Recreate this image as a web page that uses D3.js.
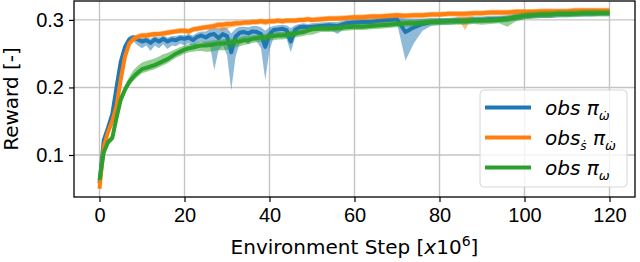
<!DOCTYPE html>
<html>
<head>
<meta charset="utf-8">
<script src="https://cdn.jsdelivr.net/npm/d3@7"></script>
<style>
  body { margin: 0; background: #fff; }
  svg { font-family: "DejaVu Sans", sans-serif; }
</style>
</head>
<body>
<div id="chart"></div>
<script>
// environment steps [x10^6]
var steps = [0,1,2,3,4,5,6,7,8,9,10,11,12,13,14,15,16,17,18,19,20,21,22,23,24,25,26,27,28,29,
  30,31,32,33,34,35,36,37,38,39,40,41,42,43,44,45,46,47,48,49,50,
  52,54,56,58,60,62,64,66,68,70,72,74,76,78,80,82,84,86,88,90,
  92,94,96,98,100,102,104,106,108,110,112,114,116,118,120];

// obs pi_wdot (blue)
var blueMean = [0.058,0.122,0.140,0.160,0.200,0.238,0.260,0.271,0.274,0.271,
  0.268,0.270,0.266,0.271,0.268,0.272,0.268,0.271,0.270,0.273,
  0.272,0.274,0.270,0.275,0.277,0.274,0.278,0.279,0.273,0.279,
  0.276,0.252,0.275,0.281,0.282,0.280,0.283,0.282,0.279,0.260,
  0.279,0.285,0.286,0.287,0.285,0.268,0.285,0.289,0.290,0.289,
  0.290,
  0.291,0.292,0.291,0.295,0.296,0.297,0.297,0.299,0.300,0.301,
  0.282,0.289,0.294,0.297,0.298,0.298,0.299,0.299,0.300,0.300,
  0.301,0.301,0.302,0.304,0.306,0.307,0.308,0.308,0.309,0.309,
  0.310,0.310,0.310,0.311,0.311];
var blueLo = [0.054,0.116,0.134,0.152,0.190,0.228,0.252,0.265,0.268,0.262,
  0.258,0.262,0.254,0.262,0.258,0.264,0.257,0.262,0.261,0.265,
  0.262,0.266,0.258,0.266,0.268,0.262,0.262,0.226,0.255,0.262,
  0.248,0.196,0.245,0.266,0.268,0.264,0.270,0.268,0.258,0.211,
  0.256,0.274,0.276,0.277,0.272,0.252,0.274,0.281,0.283,0.283,
  0.284,
  0.285,0.286,0.279,0.289,0.290,0.291,0.291,0.293,0.294,0.295,
  0.240,0.266,0.284,0.291,0.293,0.293,0.294,0.294,0.295,0.295,
  0.296,0.296,0.297,0.299,0.301,0.302,0.303,0.303,0.304,0.304,
  0.305,0.305,0.305,0.306,0.306];
var blueHi = [0.062,0.128,0.146,0.168,0.210,0.246,0.266,0.276,0.278,0.276,
  0.273,0.275,0.272,0.276,0.274,0.277,0.274,0.276,0.276,0.278,
  0.277,0.279,0.277,0.281,0.283,0.283,0.287,0.288,0.287,0.289,
  0.288,0.280,0.287,0.290,0.290,0.289,0.291,0.291,0.289,0.284,
  0.289,0.291,0.292,0.293,0.292,0.288,0.292,0.294,0.295,0.294,
  0.295,
  0.296,0.297,0.297,0.300,0.301,0.302,0.302,0.304,0.305,0.306,
  0.302,0.302,0.302,0.303,0.303,0.303,0.304,0.304,0.305,0.305,
  0.306,0.306,0.307,0.309,0.311,0.312,0.313,0.313,0.314,0.314,
  0.315,0.315,0.315,0.316,0.316];

// obs_sdot pi_wdot (orange)
var orangeMean = [0.050,0.112,0.134,0.150,0.172,0.212,0.246,0.265,0.272,0.275,
  0.277,0.277,0.278,0.279,0.279,0.280,0.281,0.282,0.283,0.284,
  0.284,0.283,0.286,0.287,0.288,0.289,0.290,0.291,0.293,0.293,
  0.294,0.294,0.295,0.295,0.296,0.296,0.297,0.297,0.298,0.297,
  0.298,0.298,0.299,0.298,0.299,0.299,0.299,0.300,0.300,0.301,
  0.300,
  0.301,0.302,0.302,0.303,0.304,0.304,0.305,0.305,0.306,0.307,
  0.306,0.307,0.307,0.308,0.308,0.309,0.309,0.309,0.310,0.310,
  0.311,0.311,0.311,0.312,0.312,0.312,0.313,0.313,0.313,0.313,
  0.314,0.314,0.314,0.314,0.314];
var orangeLo = [0.046,0.106,0.128,0.144,0.164,0.202,0.238,0.260,0.268,0.271,
  0.273,0.273,0.274,0.275,0.275,0.276,0.277,0.278,0.279,0.280,
  0.280,0.278,0.282,0.283,0.284,0.285,0.285,0.286,0.286,0.284,
  0.287,0.289,0.290,0.291,0.292,0.292,0.293,0.293,0.294,0.292,
  0.294,0.294,0.295,0.294,0.295,0.295,0.295,0.296,0.296,0.297,
  0.296,
  0.297,0.298,0.298,0.299,0.300,0.300,0.301,0.301,0.302,0.303,
  0.302,0.303,0.303,0.304,0.304,0.305,0.305,0.285,0.306,0.306,
  0.307,0.307,0.307,0.308,0.308,0.308,0.309,0.309,0.309,0.309,
  0.310,0.310,0.310,0.310,0.310];
var orangeHi = [0.054,0.120,0.140,0.156,0.182,0.222,0.254,0.270,0.276,0.279,
  0.281,0.281,0.282,0.283,0.283,0.284,0.285,0.286,0.287,0.288,
  0.288,0.287,0.290,0.291,0.292,0.293,0.294,0.295,0.297,0.297,
  0.298,0.298,0.299,0.299,0.300,0.300,0.301,0.301,0.302,0.301,
  0.302,0.302,0.303,0.302,0.303,0.303,0.303,0.304,0.304,0.305,
  0.304,
  0.305,0.306,0.306,0.307,0.308,0.308,0.309,0.309,0.310,0.311,
  0.310,0.311,0.311,0.312,0.312,0.313,0.313,0.313,0.314,0.314,
  0.315,0.315,0.315,0.316,0.316,0.316,0.317,0.317,0.317,0.317,
  0.318,0.318,0.318,0.318,0.318];

// obs pi_w (green)
var greenMean = [0.063,0.104,0.119,0.125,0.155,0.182,0.197,0.208,0.216,0.222,
  0.227,0.229,0.231,0.233,0.236,0.239,0.242,0.246,0.250,0.253,
  0.256,0.258,0.259,0.261,0.262,0.262,0.263,0.264,0.265,0.265,
  0.266,0.267,0.268,0.268,0.270,0.270,0.272,0.273,0.274,0.274,
  0.276,0.276,0.277,0.277,0.278,0.279,0.280,0.281,0.282,0.284,
  0.286,
  0.287,0.287,0.288,0.289,0.290,0.290,0.291,0.292,0.293,0.294,
  0.295,0.295,0.296,0.297,0.297,0.298,0.298,0.298,0.299,0.299,
  0.299,0.300,0.301,0.304,0.306,0.307,0.308,0.308,0.309,0.309,
  0.309,0.310,0.310,0.310,0.310];
var greenLo = [0.059,0.098,0.114,0.120,0.148,0.176,0.191,0.202,0.210,0.216,
  0.221,0.223,0.225,0.227,0.230,0.233,0.236,0.240,0.244,0.247,
  0.250,0.252,0.253,0.254,0.254,0.253,0.253,0.254,0.255,0.255,
  0.256,0.258,0.260,0.261,0.263,0.264,0.266,0.267,0.268,0.268,
  0.270,0.270,0.271,0.271,0.272,0.273,0.274,0.275,0.276,0.278,
  0.278,
  0.282,0.282,0.283,0.284,0.285,0.285,0.286,0.287,0.288,0.289,
  0.290,0.290,0.291,0.292,0.292,0.293,0.293,0.293,0.294,0.293,
  0.294,0.295,0.290,0.298,0.301,0.302,0.303,0.303,0.304,0.304,
  0.304,0.305,0.305,0.305,0.305];
var greenHi = [0.067,0.110,0.124,0.130,0.162,0.188,0.203,0.216,0.226,0.232,
  0.237,0.239,0.241,0.243,0.246,0.249,0.251,0.254,0.257,0.260,
  0.262,0.264,0.265,0.267,0.268,0.268,0.269,0.270,0.271,0.271,
  0.272,0.273,0.274,0.274,0.276,0.276,0.277,0.278,0.279,0.279,
  0.281,0.281,0.282,0.282,0.283,0.284,0.285,0.286,0.287,0.289,
  0.291,
  0.292,0.292,0.293,0.294,0.295,0.295,0.296,0.297,0.298,0.299,
  0.300,0.300,0.301,0.302,0.302,0.303,0.303,0.303,0.304,0.304,
  0.304,0.305,0.306,0.309,0.311,0.312,0.313,0.313,0.314,0.314,
  0.314,0.315,0.315,0.315,0.315];

var xTicks = [0, 20, 40, 60, 80, 100, 120];
var yTicks = [0.1, 0.2, 0.3];

var series = [
  {name: "blue", colour: "#1f77b4", mean: blueMean, lo: blueLo, hi: blueHi},
  {name: "orange", colour: "#ff7f0e", mean: orangeMean, lo: orangeLo, hi: orangeHi},
  {name: "green", colour: "#2ca02c", mean: greenMean, lo: greenLo, hi: greenHi}
];

var width = 640, height = 262;
var margin = {top: 1, right: 5, bottom: 65, left: 74};

var svg = d3.select("#chart")
  .append("svg")
  .attr("width", width)
  .attr("height", height);

var x = d3.scaleLinear().domain([-6, 126]).range([margin.left, width - margin.right]);
var y = d3.scaleLinear().domain([0.0378, 0.328]).range([height - margin.bottom, margin.top]);

// grid
svg.append("g")
  .selectAll("line.gx")
  .data(xTicks)
  .enter().append("line")
  .attr("x1", d => x(d)).attr("x2", d => x(d))
  .attr("y1", margin.top).attr("y2", height - margin.bottom)
  .style("stroke", "#c4c4c4").style("stroke-width", 1.4);
svg.append("g")
  .selectAll("line.gy")
  .data(yTicks)
  .enter().append("line")
  .attr("y1", d => y(d)).attr("y2", d => y(d))
  .attr("x1", margin.left).attr("x2", width - margin.right)
  .style("stroke", "#c4c4c4").style("stroke-width", 1.4);

var plot = svg.append("g");
series.forEach(function (s) {
  var rows = steps.map((st, i) => ({x: st, m: s.mean[i], lo: s.lo[i], hi: s.hi[i]}));
  var area = d3.area().x(d => x(d.x)).y0(d => y(d.lo)).y1(d => y(d.hi));
  var line = d3.line().x(d => x(d.x)).y(d => y(d.m));
  plot.append("path").datum(rows)
    .attr("d", area)
    .style("fill", s.colour).style("fill-opacity", 0.5).style("stroke", "none");
  plot.append("path").datum(rows)
    .attr("d", line)
    .style("fill", "none").style("stroke", s.colour)
    .style("stroke-width", 4).style("stroke-linejoin", "round");
});

// axes
var xAxis = d3.axisBottom(x).tickValues(xTicks).tickSize(5).tickPadding(6).tickFormat(d3.format("d"));
var yAxis = d3.axisLeft(y).tickValues(yTicks).tickSize(5).tickPadding(5).tickFormat(d3.format(".1f"));
var gx = svg.append("g").attr("transform", "translate(0," + (height - margin.bottom) + ")").call(xAxis);
var gy = svg.append("g").attr("transform", "translate(" + margin.left + ",0)").call(yAxis);
[gx, gy].forEach(function (g) {
  g.select(".domain").remove();
  g.selectAll("text").style("font-size", "20px").style("fill", "#000");
  g.selectAll("line").style("stroke", "#000").style("stroke-width", 1.2);
});

// frame
svg.append("rect")
  .attr("x", margin.left).attr("y", margin.top)
  .attr("width", width - margin.right - margin.left)
  .attr("height", height - margin.bottom - margin.top)
  .style("fill", "none").style("stroke", "#000").style("stroke-width", 1.3);

// labels
svg.append("text")
  .attr("transform", "translate(18," + ((margin.top + height - margin.bottom) / 2) + ") rotate(-90)")
  .attr("text-anchor", "middle")
  .style("font-size", "20px")
  .text("Reward [-]");

var xl = svg.append("text")
  .attr("x", (margin.left + width - margin.right) / 2)
  .attr("y", 254)
  .attr("text-anchor", "middle")
  .style("font-size", "20px");
xl.append("tspan").text("Environment Step [");
xl.append("tspan").style("font-style", "italic").text("x");
xl.append("tspan").text("10");
xl.append("tspan").attr("dy", -8).style("font-size", "14px").text("6");
xl.append("tspan").attr("dy", 8).text("]");

// legend
var legend = svg.append("g");
legend.append("rect")
  .attr("x", 480).attr("y", 90).attr("width", 147).attr("height", 97)
  .attr("rx", 4)
  .style("fill", "#fff").style("fill-opacity", 0.8)
  .style("stroke", "#d6d6d6").style("stroke-width", 1);

var legendRows = [
  {colour: "#1f77b4", sub: null, pisub: "\u03c9\u0307"},
  {colour: "#ff7f0e", sub: "\u1e61", pisub: "\u03c9\u0307"},
  {colour: "#2ca02c", sub: null, pisub: "\u03c9"}
];
legendRows.forEach(function (r, i) {
  var cy = 107.5 + i * 30;
  legend.append("line")
    .attr("x1", 485).attr("x2", 531).attr("y1", cy).attr("y2", cy)
    .style("stroke", r.colour).style("stroke-width", 4);
  var t = legend.append("text")
    .attr("x", 545).attr("y", cy + 7)
    .style("font-size", "20px").style("font-style", "italic");
  t.append("tspan").text("obs");
  if (r.sub) {
    t.append("tspan").attr("dy", 5).style("font-size", "12px").text(r.sub);
    t.append("tspan").attr("dy", -5).text(" \u03c0");
  } else {
    t.append("tspan").text(" \u03c0");
  }
  t.append("tspan").attr("dy", 5).style("font-size", "13px").text(r.pisub);
});
</script>
</body>
</html>
